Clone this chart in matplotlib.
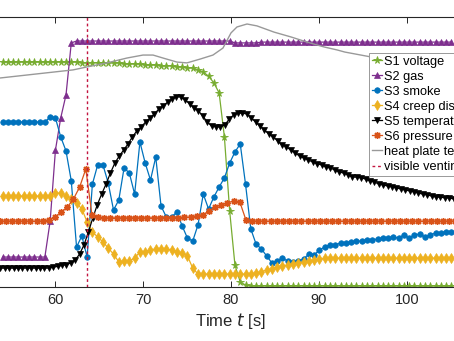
import numpy as np
import matplotlib
matplotlib.use("Agg")
import matplotlib.pyplot as plt

plt.rcParams['font.family'] = ['Liberation Sans', 'DejaVu Sans']

# sampling grids (start time, step)
t0_a, dt_a = 54.05, 0.6     # S1, S2, S3, S4
t0_s5, dt_s5 = 53.8, 0.5    # S5
t0_s6, dt_s6 = 53.7, 0.7    # S6

# normalised signals (0..100)
s1_voltage = ([83.3] * 15 + [83.1] * 4 + [83.0] * 4 + [82.6] * 4 + [82.2] * 3 + [81.9] * 3
              + [81.5] * 2 + [81.1] * 2
              + [80.4, 79.6, 78.1, 75.6, 71.9, 55.6, 28.1, 8.1, 1.9, 0.7]
              + [0.4] * 39)

s2_gas = ([11.1] * 9 + [24.4, 50.7, 62.6, 71.1, 90.4]
          + [91.1] * 30 + [90.4] * 5 + [90.7] * 37)

s3_smoke = ([61.1] * 9
            + [63.0, 62.6, 55.6, 50.4, 39.3, 14.8, 18.9, 11.1, 38.1, 45.2,
               45.2, 38.5, 28.5, 32.2, 44.1, 42.2, 34.4, 53.7, 45.9, 39.6,
               48.1, 30.0, 25.9, 25.9, 27.8, 22.6, 18.1, 17.0, 23.0, 34.4,
               28.9, 33.3, 37.0, 40.4, 45.9, 50.0, 53.0, 38.1, 21.5, 15.9,
               14.1, 11.5, 8.9, 9.6, 10.7, 9.6, 9.3, 9.6, 10.4, 12.2,
               11.9, 13.7, 14.8, 15.6, 15.6, 16.3, 16.3, 16.7, 17.0, 17.0,
               17.4, 17.4, 17.8, 18.1, 18.1, 18.5, 18.1, 19.3, 18.1, 19.3,
               19.6, 18.5, 19.3, 20.0, 20.0, 20.4, 20.4])

s4_creep = ([33.7] * 10
            + [34.8, 34.8, 33.7, 32.6, 31.1, 28.9, 24.1, 20.4, 18.5, 16.7,
               14.4, 12.2, 9.3, 9.6, 9.6, 10.7, 13.0, 13.0, 13.7, 14.1,
               14.1, 14.1, 13.7, 13.0, 12.6, 11.5, 7.0]
            + [4.8] * 11
            + [5.2, 5.6, 6.3, 6.7, 7.4, 7.8, 8.1, 8.5, 8.9, 9.3, 9.6, 10.0, 10.4, 10.6]
            + [10.7] * 24)

s5_temp = ([7.0] * 12
           + [7.4, 7.6, 8.0, 8.3, 8.9, 10.0, 12.2, 15.6, 20.4, 25.6,
              30.4, 34.4, 38.1, 42.2, 45.9, 48.5, 50.7, 53.0, 55.6, 57.8,
              59.3, 61.1, 62.6, 64.1, 65.9, 67.0, 68.5, 69.6, 70.4, 70.4,
              69.3, 67.8, 66.3, 65.2, 63.3, 61.1, 59.6, 59.3, 59.3, 60.0,
              62.2, 63.7, 64.4, 64.4, 64.1, 62.6, 61.1, 59.6, 58.1, 56.7,
              55.6, 54.1, 52.6, 51.9, 50.7, 49.6, 48.5, 47.8, 47.0, 46.3,
              45.6, 45.2, 44.4, 44.1, 43.3, 42.6, 42.2, 41.5, 40.7, 40.7,
              40.4, 40.0, 39.3, 38.9, 38.1, 37.8, 37.4, 37.0, 36.7, 36.3,
              35.9, 35.6, 35.2, 34.8, 34.4, 34.1, 33.7, 33.3, 33.3, 33.0,
              33.0, 32.6])

s6_pressure = ([24.4] * 8
               + [24.8, 25.9, 27.8, 29.6, 32.6, 37.0, 43.7, 26.7, 25.9]
               + [25.6] * 13
               + [25.9, 25.9, 26.3, 26.7, 28.1, 29.6, 30.4, 31.1, 31.9, 31.5, 24.8, 24.4]
               + [24.4] * 33)

plate_t = [53.75, 62.05, 63.64, 65.91, 68.18, 70.0, 71.14, 72.27, 73.86, 75.0,
           76.48, 77.95, 79.09, 80.0, 80.68, 81.82, 82.95, 84.89, 86.82, 88.64,
           90.57, 92.05, 92.95, 95.91, 106.0]
plate_temp = [77.4, 80.4, 81.5, 83.0, 84.8, 85.9, 85.9, 84.8, 83.3, 83.0,
              84.4, 85.9, 88.5, 94.1, 96.3, 97.4, 96.7, 94.4, 92.6, 90.7,
              88.9, 87.8, 87.0, 85.2, 82.0]

t_venting = 63.6
xticks = [60, 70, 80, 90, 100]


def grid(t0, dt, n):
    return t0 + dt * np.arange(n)


fig = plt.figure(figsize=(4.54, 3.41), dpi=100)
# axes spans past the figure edges (the reference is a crop)
ax = fig.add_axes([-0.0727, 0.1584, 1.163, 0.7918])

lw = 0.9
ax.plot(grid(t0_a, dt_a, len(s1_voltage)), s1_voltage, '-*', color='#77AC30', lw=lw,
        ms=5.5, mew=0.6, label='S1 voltage')
ax.plot(grid(t0_a, dt_a, len(s2_gas)), s2_gas, '-^', color='#7E2F8E', lw=lw,
        ms=4, mew=0.5, label='S2 gas')
ax.plot(grid(t0_a, dt_a, len(s3_smoke)), s3_smoke, '-o', color='#0072BD', lw=lw,
        ms=4, mew=0.5, label='S3 smoke')
ax.plot(grid(t0_a, dt_a, len(s4_creep)), s4_creep, '-d', color='#EDB120', lw=lw,
        ms=5, mew=0.5, label='S4 creep distance')
ax.plot(grid(t0_s5, dt_s5, len(s5_temp)), s5_temp, '-v', color='black', lw=lw,
        ms=4, mew=0.5, label='S5 temperature')
ax.plot(grid(t0_s6, dt_s6, len(s6_pressure)), s6_pressure, '-', marker=(8, 2, 0),
        color='#D95319', lw=lw, ms=5, mew=1.0, label='S6 pressure')
ax.plot(plate_t, plate_temp, '-', color='#999999', lw=1.0, label='heat plate temperature')
ax.axvline(t_venting, color='#C2143F', lw=1.0, ls=(0, (2, 2)), label='visible venting')

ax.set_xlim(50, 110)
ax.set_ylim(0, 100)
ax.set_xticks(xticks)
ax.set_yticks([])
ax.tick_params(axis='x', direction='in', top=True, length=4, width=0.7,
               labelsize=10.5, colors='#262626', pad=4)
for sp in ax.spines.values():
    sp.set_linewidth(0.8)
    sp.set_color('#262626')
ax.set_xlabel('Time $t$ [s]', fontsize=12, color='#262626', labelpad=3)

leg = ax.legend(loc='upper left', bbox_to_anchor=(369 / 454, 1 - 53 / 341),
                bbox_transform=fig.transFigure, fontsize=9.2, frameon=True,
                fancybox=False, framealpha=1, edgecolor='#999999',
                handlelength=0.8, handletextpad=0.2, labelspacing=0.24,
                borderpad=0.2, borderaxespad=0)
leg.get_frame().set_linewidth(0.7)

fig.savefig('out.png', dpi=100)
